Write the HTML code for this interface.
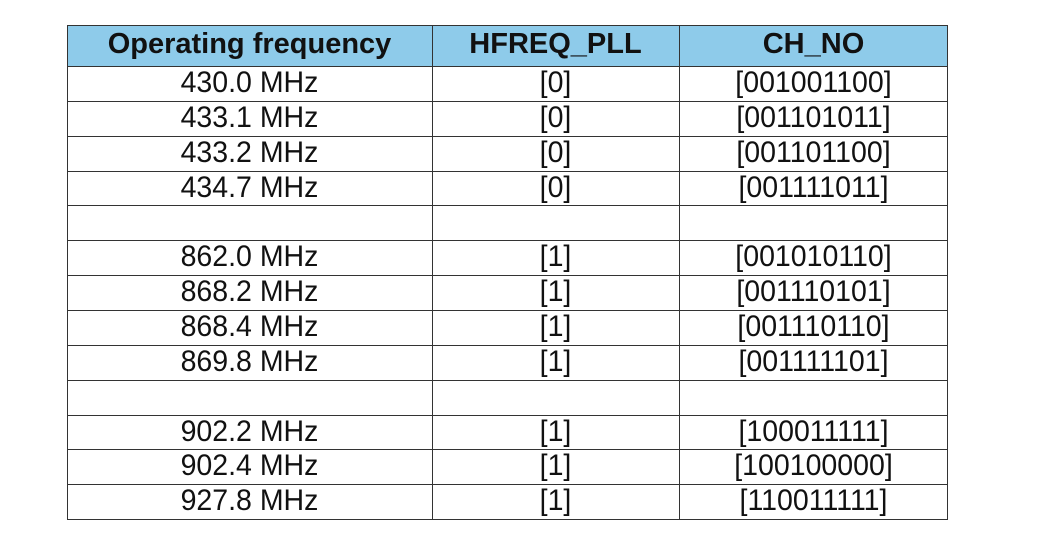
<!DOCTYPE html>
<html><head><style>
body{margin:0;width:1062px;height:550px;background:#fff;position:relative;font-family:"Liberation Sans",Arial,sans-serif;overflow:hidden}
.h{position:absolute;left:67px;width:881px;height:1px;background:#333}
.v{position:absolute;top:25px;height:495px;width:1px;background:#333}
.hdr{position:absolute;left:68px;top:26px;width:879px;height:40px;background:#8ECBEA}
.t{position:absolute;text-align:center;font-size:30px;line-height:35px;color:#111;transform:scaleX(0.95)}
.b{font-weight:bold;font-size:29px;line-height:41px;transform:none}
</style></head><body>
<div class="hdr"></div>
<div class="t b" style="left:67px;width:365px;top:24px">Operating frequency</div>
<div class="t b" style="left:432px;width:247px;top:24px">HFREQ_PLL</div>
<div class="t b" style="left:679px;width:269px;top:24px">CH_NO</div>
<div id="rows"></div>
<script>
var d=[["430.0 MHz","[0]","[001001100]"],["433.1 MHz","[0]","[001101011]"],["433.2 MHz","[0]","[001101100]"],["434.7 MHz","[0]","[001111011]"],["","",""],["862.0 MHz","[1]","[001010110]"],["868.2 MHz","[1]","[001110101]"],["868.4 MHz","[1]","[001110110]"],["869.8 MHz","[1]","[001111101]"],["","",""],["902.2 MHz","[1]","[100011111]"],["902.4 MHz","[1]","[100100000]"],["927.8 MHz","[1]","[110011111]"]];
var h='',cols=[[67,365],[432,247],[679,269]];
h+='<div class="h" style="top:25px"></div><div class="h" style="top:66px"></div>';
for(var i=0;i<13;i++){var y=66+i*34.85;
for(var c=0;c<3;c++)h+='<div class="t" style="left:'+cols[c][0]+'px;width:'+cols[c][1]+'px;top:'+(y-1)+'px">'+d[i][c]+'</div>';
h+='<div class="h" style="top:'+Math.round(y+34.85)+'px"></div>';}
[67,432,679,947].forEach(function(x){h+='<div class="v" style="left:'+x+'px"></div>'});
document.getElementById('rows').innerHTML=h;
</script>
</body></html>
